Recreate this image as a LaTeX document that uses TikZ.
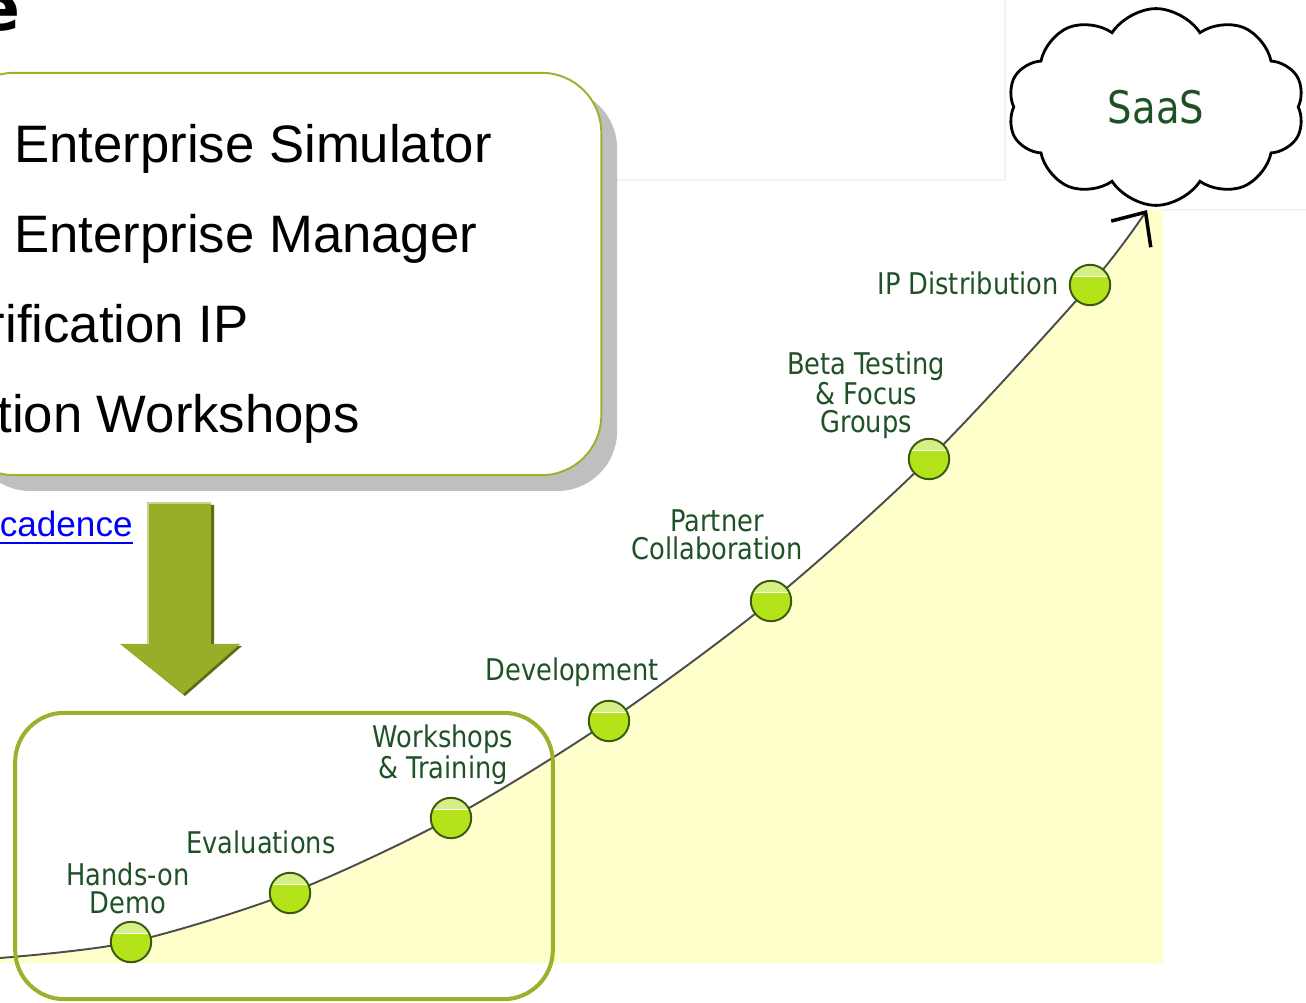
\documentclass[tikz,border=0pt]{standalone}
\usepackage{fontspec}
\setmainfont{Liberation Sans}
\newfontfamily\stagefont[FakeStretch=0.86]{DejaVu Sans}
\newfontfamily\headfont{DejaVu Sans}
\usetikzlibrary{shapes.symbols}
\usetikzlibrary{shadows}
\usetikzlibrary{arrows.meta}
\definecolor{boxolive}{HTML}{9BB02B}
\definecolor{arrowolive}{HTML}{9AAD28}
\definecolor{arrowdark}{HTML}{5E6B15}
\definecolor{arrowlight}{HTML}{C9D58E}
\definecolor{chartyellow}{HTML}{FFFFCC}
\definecolor{stagegreen}{HTML}{1E5226}
\definecolor{ballbody}{HTML}{B4E31A}
\definecolor{balltop}{HTML}{D6EE86}
\definecolor{balledge}{HTML}{3A5A10}
\definecolor{shadowgray}{HTML}{BFBFBF}
\definecolor{faintgray}{HTML}{F3F3F3}
\definecolor{linkblue}{HTML}{0000FF}
\tikzstyle{stageball}=[circle,draw=balledge,line width=1.1pt,minimum size=23pt,inner sep=0pt,fill=ballbody,
  path picture={\fill[balltop] ([yshift=5pt]path picture bounding box.west) rectangle (path picture bounding box.north east);
                \draw[white,line width=0.8pt] ([yshift=5pt]path picture bounding box.west) -- ([yshift=5pt]path picture bounding box.east);}]
\tikzstyle{stagelabel}=[text=stagegreen,font=\stagefont\fontsize{17}{16}\selectfont,align=center,inner sep=0pt]
\tikzstyle{offerline}=[font=\fontsize{30}{36}\selectfont,inner sep=0pt]
\tikzstyle{curveline}=[draw=black!70,line width=1.1pt]
\newcommand{\drawstage}[4]{
  % ball on the curve, then its label
  \node[stageball] (#1) at (#2) {};
  \node[stagelabel] (#1text) at (#3) {#4};
}

\begin{document}
\begin{tikzpicture}[x=0.02cm,y=-0.02cm]
  \useasboundingbox (0,0) rectangle (1306,1003);
  \clip (0,0) rectangle (1306,1003);
  % faint panel edges
  \draw[faintgray,line width=0.6pt] (600,180) -- (1005,180) -- (1005,0);
  \draw[faintgray,line width=0.6pt] (1163,210) -- (1306,210);
  % points of the curve
  \coordinate (p0) at (0,958);
  \coordinate (p1) at (131,942);
  \coordinate (p2) at (290,893);
  \coordinate (p3) at (451,818);
  \coordinate (p4) at (609,721);
  \coordinate (p5) at (771,601);
  \coordinate (p6) at (929,459);
  \coordinate (p7) at (1090,285);
  \coordinate (p8) at (1147,210);
  \fill[chartyellow] plot[smooth] coordinates {(p0) (p1) (p2) (p3) (p4) (p5) (p6) (p7) (p8)}
    -- (1163,210) -- (1163,963) -- (0,963) -- cycle;
  \draw[curveline,-{Straight Barb[length=15pt,width=27pt,line width=2pt,color=black]}]
    plot[smooth] coordinates {(p0) (p1) (p2) (p3) (p4) (p5) (p6) (p7) (p8)};
  \node[cloud,draw=black,line width=1.6pt,cloud puffs=10,cloud puff arc=115,aspect=1.5,
        minimum width=169pt,minimum height=112pt,inner sep=0pt,fill=white,text=stagegreen,
        font=\stagefont\fontsize{25.5}{30}\selectfont] (saas) at (1156,107) {SaaS};

  \drawstage{demo}{p1}{128,888}{Hands-on\\Demo}
  \drawstage{eval}{p2}{261,842}{Evaluations}
  \drawstage{workshop}{p3}{443,755}{Workshops\\\& Training}
  \drawstage{develop}{p4}{572,672}{Development}
  \drawstage{partner}{p5}{717,535}{Partner\\Collaboration}
  \drawstage{beta}{p6}{866,395}{Beta Testing\\\& Focus\\Groups}
  \drawstage{ipdist}{p7}{968,283}{IP Distribution}

  % offer box with shadow
  \node[draw=boxolive,line width=1.1pt,fill=white,rounded corners=34pt,minimum width=368pt,minimum height=229pt,
        drop shadow={shadow xshift=9pt,shadow yshift=-9pt,fill=shadowgray,opacity=1}] (offers) at (278,274) {};
  \node[offerline,anchor=base west] (sim) at (14,163) {Enterprise Simulator};
  \node[offerline,anchor=base west] (mgr) at (14,253) {Enterprise Manager};
  \node[offerline,anchor=base east] (vip) at (249,343) {rification IP};
  \node[offerline,anchor=base east] (vws) at (360,433) {tion Workshops};
  \node[anchor=base east,inner sep=0pt,font=\headfont\bfseries\fontsize{36}{40}\selectfont] (headtail) at (21,31) {e};

  % link and big arrow
  \node[anchor=base east,inner sep=0pt,text=linkblue,font=\fontsize{20}{24}\selectfont] (link) at (133,537) {cadence};
  \draw[linkblue,line width=1.4pt] ([yshift=-3.4pt]link.base west) -- ([yshift=-3.4pt]link.base east);
  \fill[arrowdark] (151,505) -- (214,505) -- (214,646) -- (242,646) -- (185,696) -- (123,646) -- (151,646) -- cycle;
  \fill[arrowolive] (148,503) -- (211,503) -- (211,644) -- (240,644) -- (183,694) -- (120,644) -- (148,644) -- cycle;
  \draw[arrowlight,line width=0.8pt] (148,644) -- (148,503) -- (211,503);

  % trial box
  \node[draw=boxolive,line width=2.3pt,rounded corners=28pt,minimum width=306pt,minimum height=163pt] (trials) at (284,856) {};
\end{tikzpicture}
\end{document}
